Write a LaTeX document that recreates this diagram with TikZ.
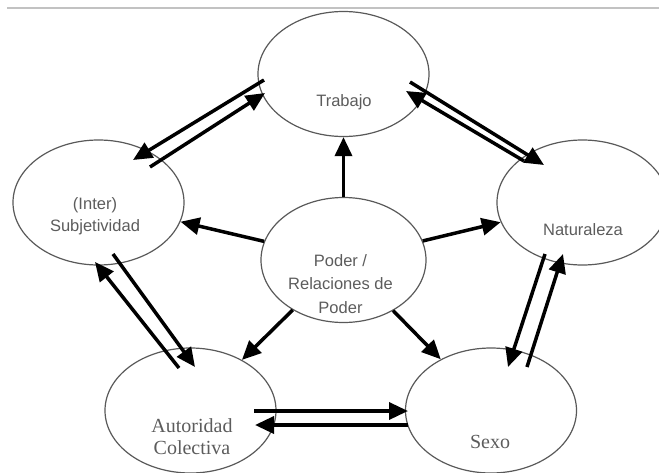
\documentclass[tikz,border=0pt]{standalone}
\usepackage{fontspec}
\setmainfont{Liberation Serif}
\setsansfont{Liberation Sans}
\usetikzlibrary{arrows.meta}
\usetikzlibrary{shapes.geometric}
\definecolor{ringgray}{rgb}{0.35, 0.35, 0.35}
\definecolor{txtgray}{rgb}{0.36, 0.36, 0.36}
\definecolor{rulegray}{rgb}{0.76, 0.76, 0.76}
\tikzset{bubble/.style = {draw=ringgray, line width=1.2, ellipse, inner sep=0,
                          minimum width=171, minimum height=125}}
\tikzset{arr/.style = {line width=3.5, -{Triangle[length=19pt, width=17pt]}}}
\tikzset{lbl/.style = {txtgray, align=center, inner sep=0,
                       font=\sffamily\fontsize{16.5}{22.5}\selectfont}}
\tikzset{lblserif/.style = {txtgray, align=center, inner sep=0,
                            font=\rmfamily\fontsize{20}{22}\selectfont}}

\begin{document}
\begin{tikzpicture}[x=1pt, y=-1pt]
  \useasboundingbox (0, 0) rectangle (659, 472);
  \draw [rulegray, line width=1.2] (7, 8) -- (659, 8);
  % the six fields
  \node [bubble] (trab) at (343.5, 74) {};
  \node [bubble] (subj) at (98.5, 202.5) {};
  \node [bubble] (natu) at (582.5, 202.5) {};
  \node [bubble, minimum width=165] (poder) at (343.5, 260) {};
  \node [bubble] (auto) at (190.5, 410.5) {};
  \node [bubble] (sexo) at (491, 410.5) {};
  \node [lbl] (trabtxt) at ([shift={(0.5, 28)}]trab.center) {Trabajo};
  \node [lbl] (subjtxt) at ([shift={(-3.5, 13.5)}]subj.center) {(Inter)\\Subjetividad};
  \node [lbl] (natutxt) at ([shift={(0.5, 27.5)}]natu.center) {Naturaleza};
  \node [lbl, font=\sffamily\fontsize{16.5}{23.5}\selectfont] (podertxt)
    at ([shift={(-3, 24)}]poder.center) {Poder /\\Relaciones de\\Poder};
  \node [lblserif] (autotxt) at ([shift={(1.5, 26.5)}]auto.center) {Autoridad\\Colectiva};
  \node [lblserif] (sexotxt) at ([shift={(-1, 31.5)}]sexo.center) {Sexo};
  % from the centre outwards
  \draw [arr] (poder) -- (trab);
  \draw [arr] (poder) -- (subj);
  \draw [arr] (poder) -- (natu);
  \draw [arr] (poder) -- (auto);
  \draw [arr] (poder) -- (sexo);
  % pairs round the ring
  \draw [arr] ([shift={(-79.5, 6)}]trab.center) -- ([shift={(34.5, -42.5)}]subj.center);
  \draw [arr] ([shift={(51.5, -35.5)}]subj.center) -- ([shift={(-78.5, 19)}]trab.center);
  \draw [arr] ([shift={(66.5, 8)}]trab.center) -- ([shift={(-38.5, -37.5)}]natu.center);
  \draw [arr] ([shift={(-58.5, -41.5)}]natu.center) -- ([shift={(62.5, 17)}]trab.center);
  \draw [arr] ([shift={(14.5, 51.5)}]subj.center) -- ([shift={(4.5, -43.5)}]auto.center);
  \draw [arr] ([shift={(-11.5, -42.5)}]auto.center) -- ([shift={(-3.5, 59.5)}]subj.center);
  \draw [arr] ([shift={(63.5, 0.5)}]auto.center) -- ([shift={(-83, 0.5)}]sexo.center);
  \draw [arr] ([shift={(-83, 14.5)}]sexo.center) -- ([shift={(64.5, 14.5)}]auto.center);
  \draw [arr] ([shift={(-37.5, 51.5)}]natu.center) -- ([shift={(17, -43.5)}]sexo.center);
  \draw [arr] ([shift={(36, -43.5)}]sexo.center) -- ([shift={(-19.5, 51.5)}]natu.center);
\end{tikzpicture}
\end{document}
